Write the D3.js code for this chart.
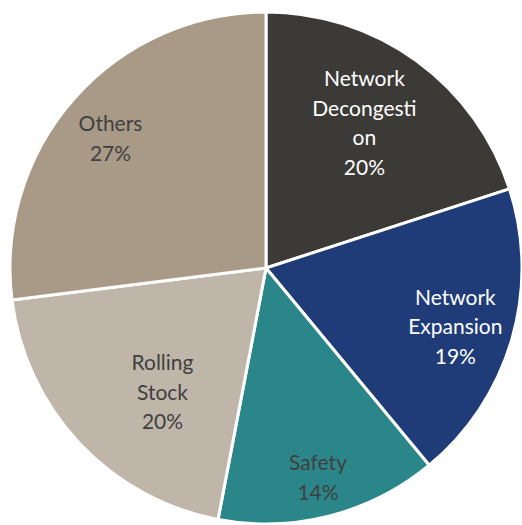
<!DOCTYPE html>
<html>
<head>
<meta charset="utf-8">
<script src="https://cdn.jsdelivr.net/npm/d3@7/dist/d3.min.js"></script>
<style>
  html, body { margin: 0; padding: 0; background: #fff; }
  svg { display: block; }
</style>
</head>
<body>
<svg id="chart" width="522" height="525"></svg>
<script>
// ---- data ----
const categories = ["Network Decongestion", "Network Expansion", "Safety", "Rolling Stock", "Others"];
const values = [20, 19, 14, 20, 27];
const valueLabels = ["20%", "19%", "14%", "20%", "27%"];

// ---- styling / layout ----
const colors = ["#3c3a37", "#1f3c78", "#2b8689", "#bfb6a9", "#a89a87"];
const textColors = ["#ffffff", "#ffffff", "#404040", "#404040", "#404040"];
// wrapped category text, as Excel rendered it
const wrapped = [["Network", "Decongesti", "on"], ["Network", "Expansion"], ["Safety"], ["Rolling", "Stock"], ["Others"]];
// label placement: [radius, bearing in degrees clockwise from 12 o'clock]
const labelPolar = [[176, 34], [198, 107], [215, 166], [161, 220], [203, 310]];

const W = 522, H = 525;
const cx = 266, cy = 268, R = 256;
const lineH = 29.5;

const svg = d3.select("#chart");
const g = svg.append("g").attr("transform", `translate(${cx},${cy})`);

const data = categories.map((c, i) => ({ cat: c, value: values[i], i }));
const pie = d3.pie().value(d => d.value).sort(null);
const arc = d3.arc().innerRadius(0).outerRadius(R);

const arcs = pie(data);

g.selectAll("path.slice")
  .data(arcs)
  .join("path")
  .attr("class", "slice")
  .attr("d", arc)
  .attr("fill", d => colors[d.data.i])
  .attr("stroke", "#ffffff")
  .attr("stroke-width", 3)
  .attr("stroke-linejoin", "round");

g.selectAll("text.lbl")
  .data(arcs)
  .join("text")
  .attr("class", "lbl")
  .attr("font-family", "Lato, 'Open Sans', sans-serif")
  .attr("font-size", 21)
  .attr("text-anchor", "middle")
  .attr("fill", d => textColors[d.data.i])
  .each(function(d) {
    const i = d.data.i;
    const [r, deg] = labelPolar[i];
    const a = deg * Math.PI / 180;
    const x = r * Math.sin(a), y = -r * Math.cos(a);
    const lines = wrapped[i].concat([valueLabels[i]]);
    const t = d3.select(this);
    const y0 = y - (lines.length - 1) * lineH / 2;
    lines.forEach((ln, k) => {
      t.append("tspan")
        .attr("x", x)
        .attr("y", y0 + k * lineH)
        .attr("dominant-baseline", "central")
        .text(ln);
    });
  });
</script>
</body>
</html>
